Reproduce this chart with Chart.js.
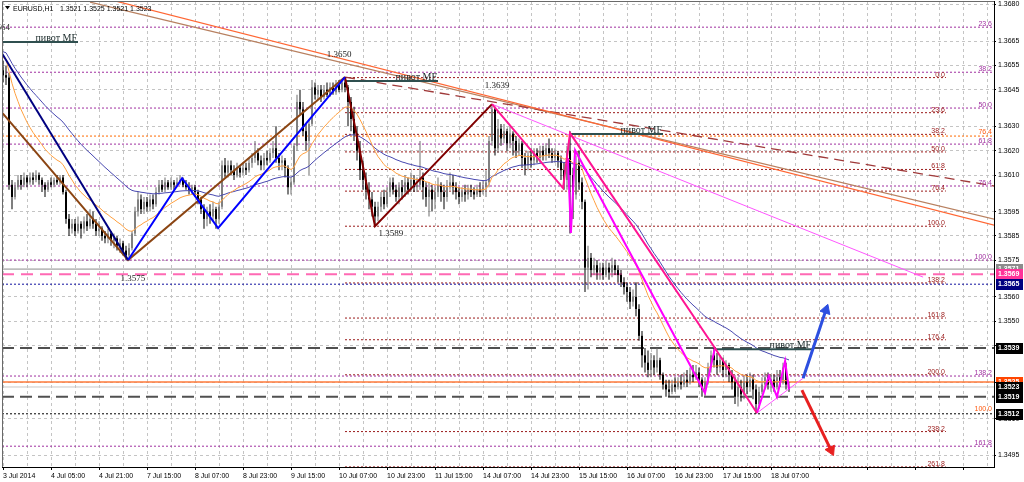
<!DOCTYPE html>
<html>
<head>
<meta charset="utf-8">
<script src="https://cdn.jsdelivr.net/npm/chart.js@4"></script>
<style>
  html, body { margin: 0; padding: 0; background: #fff; overflow: hidden; }
</style>
</head>
<body>
<canvas id="chart" width="1024" height="482"></canvas>
<script>
// ---- data ----
const BASE = 1.35, PIP = 0.0001;
const xMin = -1 / 3, xMax = 330.333;
const yMin = 1.349016, yMax = 1.368144;

const timeLabels = ["3 Jul 2014", "4 Jul 05:00", "4 Jul 21:00", "7 Jul 15:00", "8 Jul 07:00", "8 Jul 23:00",
  "9 Jul 15:00", "10 Jul 07:00", "10 Jul 23:00", "11 Jul 15:00", "14 Jul 07:00", "14 Jul 23:00",
  "15 Jul 15:00", "16 Jul 07:00", "16 Jul 23:00", "17 Jul 15:00", "18 Jul 07:00"];
const yTicks = [1.3680, 1.3665, 1.3655, 1.3645, 1.3630, 1.3620, 1.3610, 1.3595, 1.3585, 1.3575,
  1.3560, 1.3550, 1.3540, 1.3525, 1.3510, 1.3495];

// H1 candles, [open, high, low, close] in pips above 1.3500
const ohlcPips = [
  [153,157,148,151],[151,155,147,150],[150,152,104,106],[106,108,96,101],[101,107,100,105],[105,110,104,108],[108,110,104,106],[106,111,105,109],[109,110,105,107],[107,111,106,109],
  [109,111,106,108],[108,112,107,110],[110,111,106,108],[108,109,103,106],[106,107,101,104],[104,108,103,107],[107,109,105,106],[106,109,105,108],[108,110,106,107],[107,110,106,109],
  [109,110,102,103],[103,104,90,92],[92,94,85,88],[88,92,86,90],[90,92,85,87],[87,93,86,90],[90,91,84,88],[88,93,86,91],[91,94,87,89],[89,96,88,92],
  [92,95,88,90],[90,92,85,87],[87,91,85,88],[88,89,83,85],[85,87,82,84],[84,88,82,86],[86,87,81,83],[83,86,80,84],[84,85,79,81],[81,84,78,82],
  [82,83,77,79],[79,81,75,77],[77,82,75,80],[80,87,79,86],[86,97,85,95],[95,103,93,100],[100,102,94,96],[96,101,94,99],[99,101,95,97],[97,102,95,100],
  [100,102,96,98],[98,105,97,103],[103,108,102,106],[106,108,103,104],[104,109,103,107],[107,108,104,105],[105,109,104,107],[107,108,104,106],[106,109,105,107],[107,110,106,108],
  [108,109,105,106],[106,108,104,105],[105,107,102,104],[104,106,102,105],[105,106,101,103],[103,104,98,100],[100,101,94,96],[96,98,88,92],[92,97,89,95],[95,98,90,93],
  [93,99,91,96],[96,97,88,92],[92,99,90,97],[97,116,96,114],[114,117,109,111],[111,116,109,114],[114,116,110,112],[112,114,108,110],[110,115,109,113],[113,114,109,111],
  [111,115,110,113],[113,115,110,112],[112,117,111,115],[115,119,113,117],[117,124,115,119],[119,121,114,116],[116,118,112,114],[114,119,112,117],[117,120,114,116],[116,121,115,119],
  [119,124,117,121],[121,130,115,117],[117,119,112,115],[115,118,112,116],[116,117,109,113],[113,114,102,105],[105,109,102,107],[107,123,106,122],[122,143,120,140],[140,145,135,137],
  [137,140,126,128],[128,131,120,124],[124,133,110,131],[131,149,130,146],[146,148,141,143],[143,147,141,145],[145,147,140,142],[142,147,141,145],[145,148,142,143],[143,148,142,146],
  [146,148,143,144],[144,149,143,147],[147,149,144,145],[145,149,144,148],[148,150,144,146],[146,147,130,140],[140,142,128,133],[133,138,124,127],[127,130,116,120],[120,124,108,112],
  [112,116,104,108],[108,111,100,104],[104,107,96,100],[100,103,93,97],[97,99,89,93],[93,99,91,97],[97,103,95,101],[101,104,96,98],[98,105,97,103],[103,109,101,107],
  [107,109,102,104],[104,106,99,101],[101,107,98,105],[105,108,100,103],[103,110,101,107],[107,109,102,104],[104,111,103,108],[108,110,103,105],[105,109,103,106],[106,124,104,109],
  [109,111,100,105],[105,107,97,101],[101,107,93,104],[104,106,95,100],[100,105,96,103],[103,109,101,106],[106,107,99,103],[103,106,96,101],[101,108,99,105],[105,111,104,107],
  [107,110,102,105],[105,107,100,103],[103,105,98,101],[101,105,99,103],[103,106,99,102],[102,106,100,104],[104,106,101,103],[103,105,100,102],[102,106,101,104],[104,107,101,103],
  [103,108,102,105],[105,112,101,107],[107,126,105,124],[124,139,122,137],[137,138,118,121],[121,133,119,129],[129,131,122,125],[125,131,123,128],[128,129,120,123],[123,130,121,127],
  [127,128,118,124],[124,126,117,120],[120,125,118,123],[123,124,113,117],[117,119,110,114],[114,120,112,118],[118,121,113,116],[116,121,114,119],[119,121,115,117],[117,122,115,120],
  [120,122,116,118],[118,123,116,121],[121,125,117,119],[119,121,115,117],[117,121,115,119],[119,120,113,116],[116,118,108,112],[112,115,104,108],[108,122,104,120],[120,128,86,110],
  [110,113,92,102],[102,118,100,115],[115,120,104,107],[107,109,96,99],[99,100,62,72],[72,81,63,76],[76,78,68,71],[71,76,69,73],[73,75,67,70],[70,74,67,72],
  [72,74,67,69],[69,75,68,72],[72,74,67,70],[70,76,68,73],[73,75,69,71],[71,73,66,69],[69,71,64,66],[66,68,61,64],[64,66,58,62],[62,64,55,58],
  [58,63,56,60],[60,66,52,55],[55,57,42,44],[44,46,31,36],[36,39,29,33],[33,38,27,30],[30,37,27,34],[34,36,28,31],[31,39,29,34],[34,35,26,28],
  [28,29,22,24],[24,26,19,22],[22,26,19,21],[21,26,20,24],[24,27,21,23],[23,27,22,25],[25,28,22,24],[24,29,23,26],[26,30,23,25],[25,31,24,28],
  [28,32,25,27],[27,32,26,29],[29,31,23,26],[26,27,19,22],[22,27,19,25],[25,33,24,31],[31,38,29,36],[36,39,31,34],[34,37,28,31],[31,36,29,34],
  [34,35,27,30],[30,34,27,32],[32,33,25,28],[28,30,22,25],[25,27,16,19],[19,27,15,23],[23,26,17,20],[20,28,18,25],[25,28,20,23],[23,29,21,26],
  [26,28,18,22],[22,24,12,16],[16,23,14,21],[21,27,20,24],[24,29,22,27],[27,29,22,24],[24,28,21,26],[26,28,21,23],[23,30,22,27],[27,30,23,25],
  [25,33,24,31],[31,33,22,24],[21,25,21,23]
];
// level of the two moving averages at the left edge (pips)
const maOrangeStart = 159, maBlueStart = 161;

// fibonacci levels: [price, label]
const fibPurple = [[1.36707,"23.6"],[1.36522,"38.2"],[1.36375,"50.0"],[1.36227,"61.8"],[1.36055,"76.4"],[1.35751,"100.0"],[1.35275,"138.2"],[1.34987,"161.8"]];
const fibRed = [[1.3650,"0.0"],[1.36356,"23.6"],[1.36267,"38.2"],[1.36195,"50.0"],[1.36123,"61.8"],[1.36034,"76.4"],[1.3589,"100.0"],[1.35657,"138.2"],[1.35513,"161.8"],[1.35424,"176.4"],[1.3528,"200.0"],[1.35047,"238.2"],[1.34902,"261.8"]];
const fibRedFrom = 114, fibRedTo = 314.3;
const fibOrange = [[1.3626,"76.4"]];
const fibOrangeNotes = [[1.3626,"76.4"],[1.35125,"100.0"]];

// horizontal lines: [price, color, width, dash]
const hLines = [
  [1.35714, "#8c8c8c", 1, []],
  [1.35693, "#ff69b4", 2, [12, 7]],
  [1.35652, "#1010a0", 1, [2, 2]],
  [1.3539, "#505050", 2, [12, 6]],
  [1.3525, "#ff7a3a", 1.5, []],
  [1.3523, "#c8c8c8", 1, []],
  [1.3519, "#505050", 2, [12, 6]],
  [1.3512, "#000000", 1, [2, 2]]
];

// zigzags and trend lines: [bar, price]
const zigNavy = [[-1, 1.36613], [41.7, 1.35751]];
const zigBrown = [[-1, 1.36366], [41.7, 1.35751], [114, 1.36502]];
const zigBlue = [[41.7, 1.35751], [59.7, 1.36087], [71.7, 1.35882], [114, 1.36502]];
const zigMaroon = [[114, 1.36502], [124, 1.3589], [163, 1.36391]];
const zigPink = [[163, 1.36391], [186.7, 1.36046], [189, 1.36272], [237.3, 1.3539], [251.3, 1.35123]];
const zigMagenta = [[188.3, 1.3617], [189.3, 1.35862], [190.7, 1.36202], [234, 1.35205], [237.3, 1.3539]];
const zigMagentaEnd = [[251.3, 1.35123], [255.3, 1.35275], [258, 1.3519], [260.7, 1.35336], [262, 1.3522]];
const trendOrange = [[36.3, 1.36818], [330.4, 1.35894]];
const trendBrown = [[29, 1.3681], [330.4, 1.35919]];
const trendDashed = [[114, 1.36502], [330.4, 1.36055]];
const trendViolet = [[163, 1.36391], [306.7, 1.35681]];
const lineViolet = [[251.3, 1.35123], [266.7, 1.35266]];
const arrowBlue = [[266.7, 1.35266], [274.3, 1.35546]];
const arrowRed = [[266.3, 1.35217], [276, 1.34971]];

// "pivot MF" marks: [fromBar, toBar, price]
const pivots = [[-1, 25, 1.36646], [114, 145, 1.36486], [189, 220, 1.36268], [237.3, 269.7, 1.35385]];
// price notes: [text, bar, price]
const priceNotes = [["1.3650", 112, 1.36584], ["1.3639", 164.7, 1.36457], ["1.3589", 129.3, 1.35849], ["1.3575", 43.3, 1.35665]];
// right-axis tags: [price, text, background]
const axisTags = [[1.35714, "1.3571", "#8c8c8c"], [1.35693, "1.3569", "#ff3399"], [1.35652, "1.3565", "#000080"],
  [1.3539, "1.3539", "#000000"], [1.3525, "1.3525", "#ff4500"], [1.3523, "1.3523", "#000000"],
  [1.3519, "1.3519", "#000000"], [1.3512, "1.3512", "#000000"]];

// ---- build datasets ----
const px = (p) => BASE + p * PIP;
const pts = (arr) => arr.map((p) => ({ x: p[0], y: p[1] }));

function ema(values, period, start) {
  const k = 2 / (period + 1);
  let v = start;
  return values.map((c) => (v = v + k * (c - v)));
}

const closes = ohlcPips.map((r) => r[3]);
const maOrange = ema(closes, 20, maOrangeStart);
const maBlue = ema(closes, 50, maBlueStart);

const line = (data, color, width, order, dash) => ({
  type: "line",
  data: pts(data),
  borderColor: color,
  borderWidth: width,
  borderDash: dash || [],
  pointRadius: 0,
  tension: 0,
  fill: false,
  order: order,
});

const datasets = [];
hLines.forEach((h) => datasets.push(line([[xMin, h[0]], [xMax, h[0]]], h[1], h[2], 60, h[3])));
fibPurple.forEach((f) => datasets.push(line([[xMin, f[0]], [xMax, f[0]]], "#a030a0", 1, 61, [2, 2])));
fibOrange.forEach((f) => datasets.push(line([[xMin, f[0]], [xMax, f[0]]], "#ff6a00", 1, 62, [2, 2])));
fibRed.forEach((f) => datasets.push(line([[fibRedFrom, f[0]], [fibRedTo, f[0]]], "#9a1a1a", 1, 61, [2, 2])));

const bull = (r) => r[3] >= r[0];
datasets.push({
  type: "bar",
  data: ohlcPips.map((r, i) => ({ x: i, y: [px(r[2]), px(r[1])] })),
  backgroundColor: ohlcPips.map((r) => (bull(r) ? "#6e6e6e" : "#000")),
  barThickness: 1, grouped: false, inflateAmount: 0, borderWidth: 0, order: 50,
});
datasets.push({
  type: "bar",
  data: ohlcPips.map((r, i) => ({ x: i, y: [px(r[0]), px(r[3])] })),
  backgroundColor: ohlcPips.map((r) => (bull(r) ? "#808080" : "#000")),
  barThickness: 2, minBarLength: 1, grouped: false, inflateAmount: 0, borderWidth: 0, order: 49,
});

datasets.push(line(maOrange.map((v, i) => [i, px(v)]), "#ffa040", 1, 40));
datasets.push(line(maBlue.map((v, i) => [i, px(v)]), "#4848b0", 1, 41));

datasets.push(line(trendOrange, "#ff6633", 1.2, 30));
datasets.push(line(trendBrown, "#b88060", 1.2, 31));
datasets.push(line(trendDashed, "#a03a3a", 1.3, 30, [10, 6]));
datasets.push(line(trendViolet, "#ff55ff", 1, 29));
datasets.push(line(lineViolet, "#ff55ff", 1, 29));

pivots.forEach((p) => datasets.push(line([[p[0], p[2]], [p[1], p[2]]], "#2f4f4f", 2, 25)));

datasets.push(line(zigNavy, "#000080", 2, 20));
datasets.push(line(zigBrown, "#8b4513", 2, 21));
datasets.push(line(zigBlue, "#0000ff", 2, 19));
datasets.push(line(zigMaroon, "#800000", 2, 20));
datasets.push(line(zigMagenta, "#ff00ff", 2, 18));
datasets.push(line(zigMagentaEnd, "#ff00ff", 2, 18));
datasets.push(line(zigPink, "#ff1493", 2, 17));

const arrow = (data, color, angle) => Object.assign(line(data, color, 3, 5), {
  pointRadius: [0, 6],
  pointStyle: "triangle",
  pointRotation: [0, angle],
  pointBackgroundColor: color,
  pointBorderColor: color,
  pointBorderWidth: 1,
});
datasets.push(arrow(arrowBlue, "#2d4fe0", 19));
datasets.push(arrow(arrowRed, "#e82020", 155));

// ---- texts drawn through the scales ----
const overlay = {
  id: "overlay",
  afterDatasetsDraw(chart) {
    const { ctx, scales } = chart;
    const x = scales.x, y = scales.y;
    ctx.save();
    ctx.font = '7px "Liberation Sans"';
    ctx.textAlign = "right";
    ctx.textBaseline = "alphabetic";
    ctx.fillStyle = "#a030a0";
    fibPurple.forEach((f) => ctx.fillText(f[1], x.getPixelForValue(xMax) - 2, y.getPixelForValue(f[0]) - 1));
    ctx.fillStyle = "#ff5a10";
    fibOrangeNotes.forEach((f) => ctx.fillText(f[1], x.getPixelForValue(xMax) - 2, y.getPixelForValue(f[0]) - 2));
    ctx.fillStyle = "#9a1a1a";
    fibRed.forEach((f) => ctx.fillText(f[1], x.getPixelForValue(fibRedTo) - 1, y.getPixelForValue(f[0]) - 1));

    ctx.font = '10px "Liberation Serif"';
    ctx.fillStyle = "#1a2a2a";
    pivots.forEach((p) => ctx.fillText("пивот MF", x.getPixelForValue(p[1]) - 1, y.getPixelForValue(p[2]) - 1));

    ctx.font = '9px "Liberation Serif"';
    ctx.fillStyle = "#222";
    ctx.textAlign = "center";
    priceNotes.forEach((n) => ctx.fillText(n[0], x.getPixelForValue(n[1]), y.getPixelForValue(n[2])));
    ctx.textAlign = "right";
    ctx.fillText("1.3664", x.getPixelForValue(2.3), y.getPixelForValue(1.36695));
    ctx.restore();
  },
  afterDraw(chart) {
    const { ctx, chartArea: a, scales } = chart;
    const y = scales.y;
    ctx.save();
    // frame
    ctx.strokeStyle = "#6a6a6a";
    ctx.lineWidth = 1;
    ctx.beginPath();
    ctx.moveTo(a.left + 0.5, a.bottom);
    ctx.lineTo(a.left + 0.5, a.top + 0.5);
    ctx.lineTo(a.right, a.top + 0.5);
    ctx.stroke();
    // price tags on the axis
    ctx.font = 'bold 7px "Liberation Sans"';
    ctx.textAlign = "left";
    ctx.textBaseline = "middle";
    axisTags.forEach((t) => {
      const py = Math.round(y.getPixelForValue(t[0]));
      ctx.fillStyle = t[2];
      ctx.fillRect(a.right + 2, py - 5, 27, 11);
      ctx.fillStyle = "#fff";
      ctx.fillText(t[1], a.right + 4, py + 0.5);
    });
    // title
    ctx.fillStyle = "#000";
    ctx.beginPath();
    ctx.moveTo(5, 6); ctx.lineTo(10, 6); ctx.lineTo(7.5, 9.5); ctx.closePath();
    ctx.fill();
    ctx.font = '7px "Liberation Sans"';
    ctx.textBaseline = "alphabetic";
    ctx.fillText("EURUSD,H1", 13, 10.5);
    ctx.fillText("1.3521 1.3525 1.3521 1.3523", 60, 10.5);
    ctx.restore();
  },
};

Chart.defaults.font.family = '"Liberation Sans"';
Chart.defaults.color = "#000";

new Chart(document.getElementById("chart"), {
  type: "line",
  data: { datasets },
  plugins: [overlay],
  options: {
    responsive: false,
    animation: false,
    devicePixelRatio: 1,
    events: [],
    layout: { autoPadding: false, padding: { left: 2, top: 1, right: 0, bottom: 0 } },
    plugins: { legend: { display: false }, tooltip: { enabled: false } },
    scales: {
      x: {
        type: "linear",
        min: xMin,
        max: xMax,
        bounds: "data",
        offset: false,
        afterBuildTicks: (s) => {
          s.ticks = [];
          for (let i = 0; i <= 328; i += 8) s.ticks.push({ value: i });
        },
        afterFit: (s) => { s.height = 15; s.paddingLeft = 0; s.paddingRight = 0; },
        ticks: {
          autoSkip: false, maxRotation: 0, minRotation: 0, align: "start", padding: 2,
          font: { size: 7 },
          callback: (v) => (v % 16 === 0 && v / 16 < timeLabels.length ? timeLabels[v / 16] : ""),
        },
        grid: {
          offset: false, color: "#c4c4c4", lineWidth: 1, tickLength: 3,
          tickColor: (c) => (c.tick && c.tick.value % 16 === 0 ? "#000" : "rgba(0,0,0,0)"),
        },
        border: { display: true, color: "#000", width: 1, dash: [3, 3] },
      },
      y: {
        type: "linear",
        position: "right",
        min: yMin,
        max: yMax,
        bounds: "data",
        afterBuildTicks: (s) => { s.ticks = yTicks.map((v) => ({ value: v })); },
        afterFit: (s) => { s.width = 30; s.paddingTop = 0; s.paddingBottom = 0; },
        ticks: { padding: 2, font: { size: 7 }, callback: (v) => v.toFixed(4) },
        grid: { color: "#c4c4c4", lineWidth: 1, tickLength: 2, tickColor: "#000" },
        border: { display: true, color: "#000", width: 1, dash: [3, 3] },
      },
    },
  },
});
</script>
</body>
</html>
